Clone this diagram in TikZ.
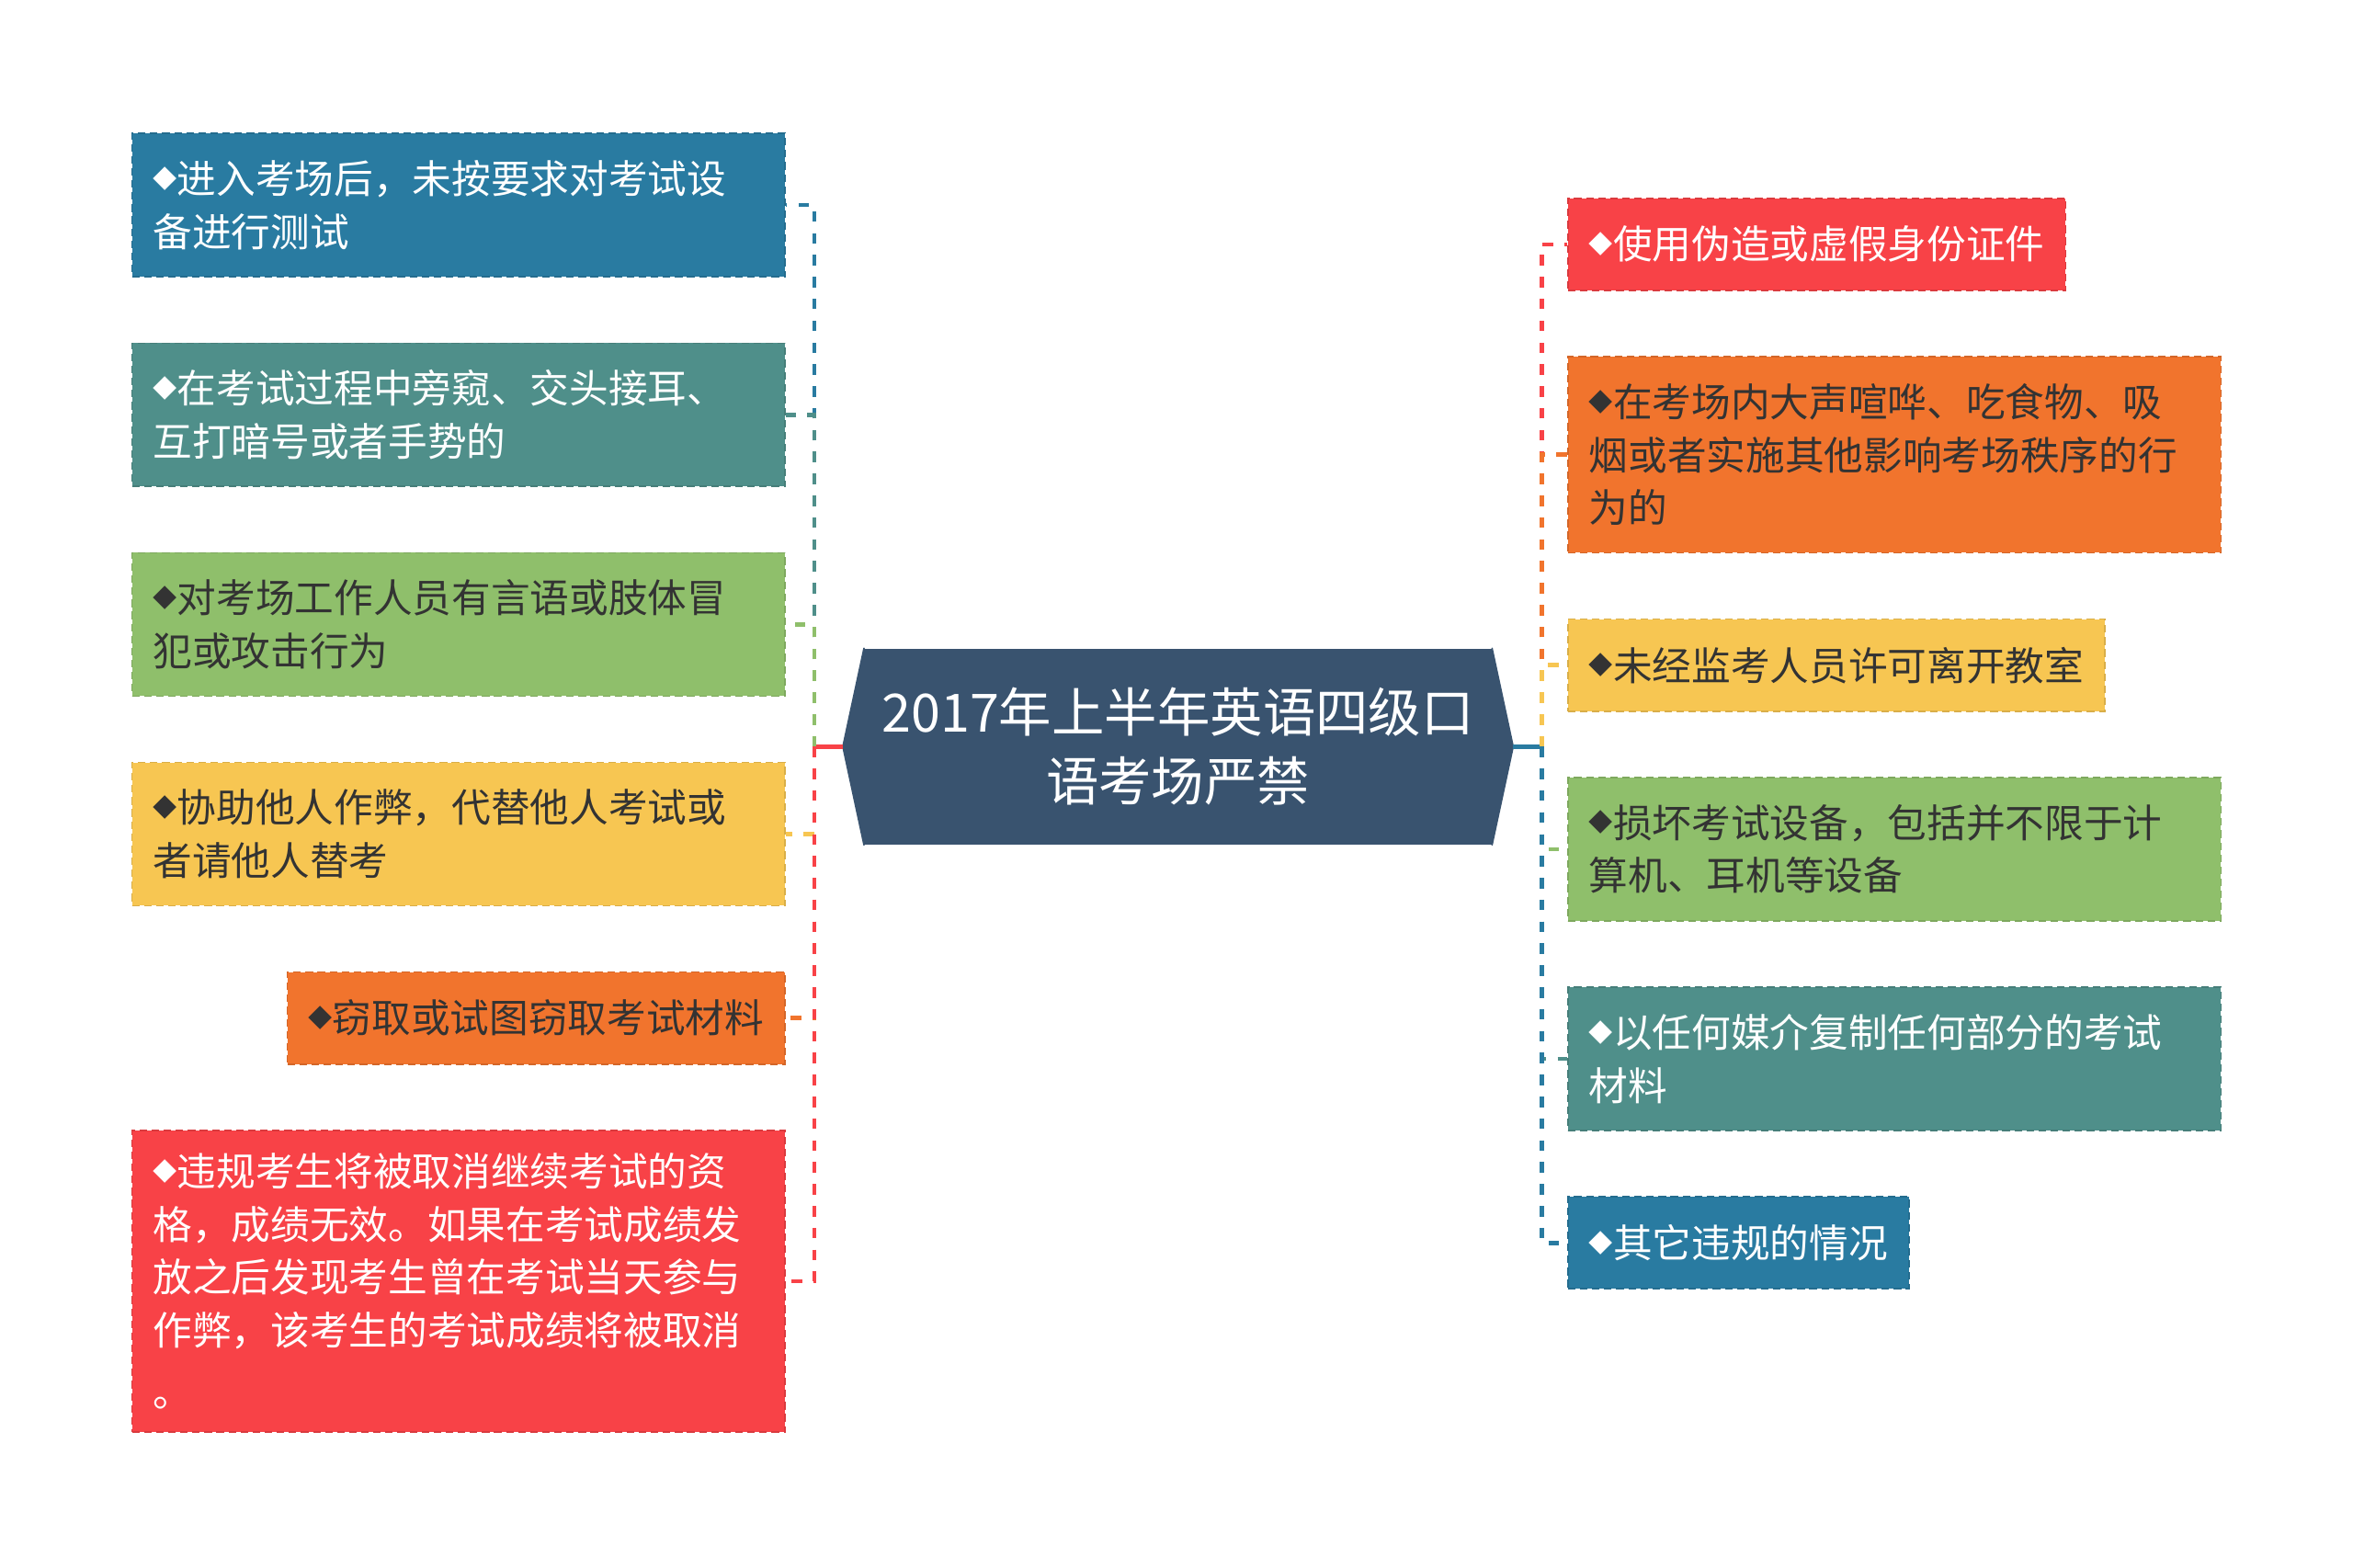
\documentclass[tikz,border=0pt]{standalone}
\usepackage{fontspec}
\newfontfamily\cjk{Noto Sans CJK SC}
\usetikzlibrary{calc}
\usetikzlibrary{positioning, shapes}

\definecolor{mblue}{HTML}{297BA1}
\definecolor{mteal}{HTML}{4F8F8A}
\definecolor{mgreen}{HTML}{8FBF6B}
\definecolor{myellow}{HTML}{F7C652}
\definecolor{morange}{HTML}{F1742D}
\definecolor{mred}{HTML}{F84247}
\definecolor{mroot}{HTML}{39536F}
\definecolor{mtext}{HTML}{333333}

\newcommand{\dia}{{\fontsize{16}{16}\selectfont\raisebox{4pt}{◆}}}

\tikzset{
  leaf/.style={rectangle, fill=#1, draw=#1!88!black, dash pattern=on 5pt off 3pt,
    line width=1pt, inner xsep=14pt, inner ysep=0pt, align=left,
    font=\cjk\fontsize{26}{35}\selectfont},
  wide/.style={text width=405pt},
  light/.style={text=white},
  darktxt/.style={text=mtext},
  link/.style={draw=#1, line width=2.8pt, dash pattern=on 7pt off 7.5pt},
  stub/.style={draw=#1, line width=2.8pt}
}

\begin{document}
\begin{tikzpicture}[x=1pt, y=-1pt]
\fill[white] (0,0) rectangle (1560,1039);

% centre
\node[fill=mroot, text=white, align=center, minimum width=416pt, minimum height=130pt,
  inner sep=0pt, font=\cjk\fontsize{35}{46}\selectfont] (root) at (781,495)
  {2017年上半年英语四级口\\语考场严禁};
\filldraw[mroot, line width=1pt, line join=round] (root.north west) -- ([xshift=-14pt]root.west) coordinate (rootL) -- (root.south west) -- cycle;
\filldraw[mroot, line width=1pt, line join=round] (root.north east) -- ([xshift=14pt]root.east) coordinate (rootR) -- (root.south east) -- cycle;

% left side
\node[leaf=mblue, wide, light, minimum height=95pt, anchor=north east] (l1) at (521,88)
  {\dia 进入考场后，未按要求对考试设\\备进行测试};
\node[leaf=mteal, wide, light, minimum height=95pt, below=43pt of l1.south east, anchor=north east] (l2)
  {\dia 在考试过程中旁窥、交头接耳、\\互打暗号或者手势的};
\node[leaf=mgreen, wide, darktxt, minimum height=95pt, below=43pt of l2.south east, anchor=north east] (l3)
  {\dia 对考场工作人员有言语或肢体冒\\犯或攻击行为};
\node[leaf=myellow, wide, darktxt, minimum height=95pt, below=43pt of l3.south east, anchor=north east] (l4)
  {\dia 协助他人作弊，代替他人考试或\\者请他人替考};
\node[leaf=morange, darktxt, minimum height=61pt, below=43pt of l4.south east, anchor=north east] (l5)
  {\dia 窃取或试图窃取考试材料};
\node[leaf=mred, wide, light, minimum height=200pt, below=43pt of l5.south east, anchor=north east] (l6)
  {\dia 违规考生将被取消继续考试的资\\格，成绩无效。如果在考试成绩发\\放之后发现考生曾在考试当天参与\\作弊，该考生的考试成绩将被取消\\[6pt]。};

% right side
\node[leaf=mred, light, minimum height=61pt, anchor=north west] (r1) at (1039,131)
  {\dia 使用伪造或虚假身份证件};
\node[leaf=morange, wide, darktxt, minimum height=130pt, below=43pt of r1.south west, anchor=north west] (r2)
  {\dia 在考场内大声喧哗、吃食物、吸\\烟或者实施其他影响考场秩序的行\\为的};
\node[leaf=myellow, darktxt, minimum height=61pt, below=43pt of r2.south west, anchor=north west] (r3)
  {\dia 未经监考人员许可离开教室};
\node[leaf=mgreen, wide, darktxt, minimum height=95pt, below=43pt of r3.south west, anchor=north west] (r4)
  {\dia 损坏考试设备，包括并不限于计\\算机、耳机等设备};
\node[leaf=mteal, wide, light, minimum height=95pt, below=43pt of r4.south west, anchor=north west] (r5)
  {\dia 以任何媒介复制任何部分的考试\\材料};
\node[leaf=mblue, light, minimum height=61pt, below=43pt of r5.south west, anchor=north west] (r6)
  {\dia 其它违规的情况};

% connectors
\draw[stub=mred] (rootL) -- ++(-19,0) coordinate (lt);
\draw[stub=mblue] (rootR) -- ++(19,0) coordinate (rt);
\foreach \n/\c in {l1/mblue, l2/mteal, l3/mgreen, l4/myellow, l5/morange, l6/mred}
  \draw[link=\c] (lt) |- (\n.east);
\foreach \n/\c in {r1/mred, r2/morange, r3/myellow, r4/mgreen, r5/mteal, r6/mblue}
  \draw[link=\c] (rt) |- (\n.west);
\end{tikzpicture}
\end{document}
